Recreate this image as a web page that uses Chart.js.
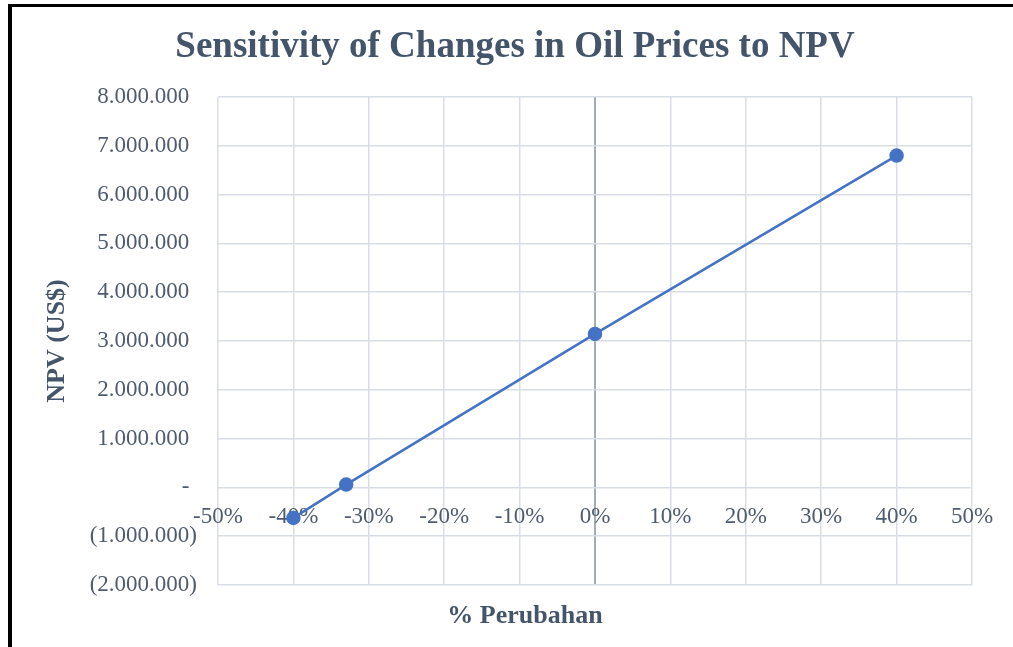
<!DOCTYPE html>
<html>
<head>
<meta charset="utf-8">
<title>Sensitivity of Changes in Oil Prices to NPV</title>
<script src="https://cdn.jsdelivr.net/npm/chart.js@4.4.1/dist/chart.umd.min.js"></script>
<style>
  html, body { margin: 0; padding: 0; background: #fff; overflow: hidden; }
  #frame {
    position: absolute; left: 8px; top: 4px; width: 1100px; height: 700px;
    border-left: 4px solid #000; border-top: 3px solid #000;
  }
  #chart { position: absolute; left: 0; top: 0; }
</style>
</head>
<body>
<div id="frame"></div>
<canvas id="chart" width="1013" height="647"></canvas>
<script>
// % change in oil price vs NPV (US$)
const changes = [-40, -33, 0, 40];
const npv = [-625000, 57000, 3145000, 6800000];

const chartTitle = 'Sensitivity of Changes in Oil Prices to NPV';
const xTitle = '% Perubahan';
const yTitle = 'NPV (US$)';

const serif = "'Liberation Serif', 'Times New Roman', serif";
const titleColor = '#44546a';
const tickColor = '#4f5b6e';
const gridColor = '#d9dde5';
const axisColor = '#a3acb9';
const lineColor = '#4472c4';

// 1.000.000 style, negatives in brackets, zero as a dash
const dots = (n) => Math.abs(n).toString().replace(/\B(?=(\d{3})+(?!\d))/g, '.');
const fmtNpv = (v) => {
  if (v === 0) return '-\u2004';
  if (v < 0) return '(' + dots(v) + ')';
  return dots(v) + '\u2004';
};

const titles = {
  id: 'titles',
  afterDraw(chart) {
    const c = chart.ctx;
    c.save();
    c.fillStyle = titleColor;
    c.textAlign = 'center';
    c.textBaseline = 'middle';
    c.font = `bold 37px ${serif}`;
    c.fillText(chartTitle, 515, 47);
    c.font = `bold 26px ${serif}`;
    c.fillText(xTitle, 525, 616);
    c.restore();
  }
};

new Chart(document.getElementById('chart'), {
  type: 'scatter',
  data: {
    datasets: [{
      data: changes.map((c, i) => ({ x: c, y: npv[i] })),
      showLine: true,
      borderColor: lineColor,
      backgroundColor: lineColor,
      borderWidth: 2.5,
      pointRadius: 6,
      pointHoverRadius: 6
    }]
  },
  options: {
    responsive: false,
    animation: false,
    devicePixelRatio: 1,
    layout: { padding: { left: 38, right: 41, top: 97, bottom: 62 } },
    plugins: {
      legend: { display: false },
      title: { display: false },
      tooltip: { enabled: false }
    },
    scales: {
      x: {
        type: 'linear', position: 'bottom', min: -50, max: 50,
        ticks: { display: false, stepSize: 10 },
        grid: {
          color: (ctx) => ctx.tick && ctx.tick.value === 0 ? axisColor : gridColor,
          lineWidth: (ctx) => ctx.tick && ctx.tick.value === 0 ? 2 : 1.5,
          drawTicks: false
        },
        border: { display: false }
      },
      xLab: {
        axis: 'x', type: 'linear', position: { y: 0 }, min: -50, max: 50,
        ticks: {
          stepSize: 10, autoSkip: false, maxRotation: 0, padding: 16,
          color: tickColor, font: { family: serif, size: 23 },
          callback: (v) => v + '%'
        },
        grid: { display: false, drawTicks: false },
        border: { display: false }
      },
      y: {
        min: -2000000, max: 8000000,
        ticks: {
          stepSize: 1000000, padding: 21,
          color: tickColor, font: { family: serif, size: 23 },
          callback: fmtNpv
        },
        grid: { color: gridColor, lineWidth: 1.5, drawTicks: false },
        border: { display: false },
        title: {
          display: true, text: yTitle, color: titleColor,
          font: { family: serif, size: 26, weight: 'bold' }
        },
        afterFit: (s) => { s.width = 180; }
      }
    }
  },
  plugins: [titles]
});
</script>
</body>
</html>
